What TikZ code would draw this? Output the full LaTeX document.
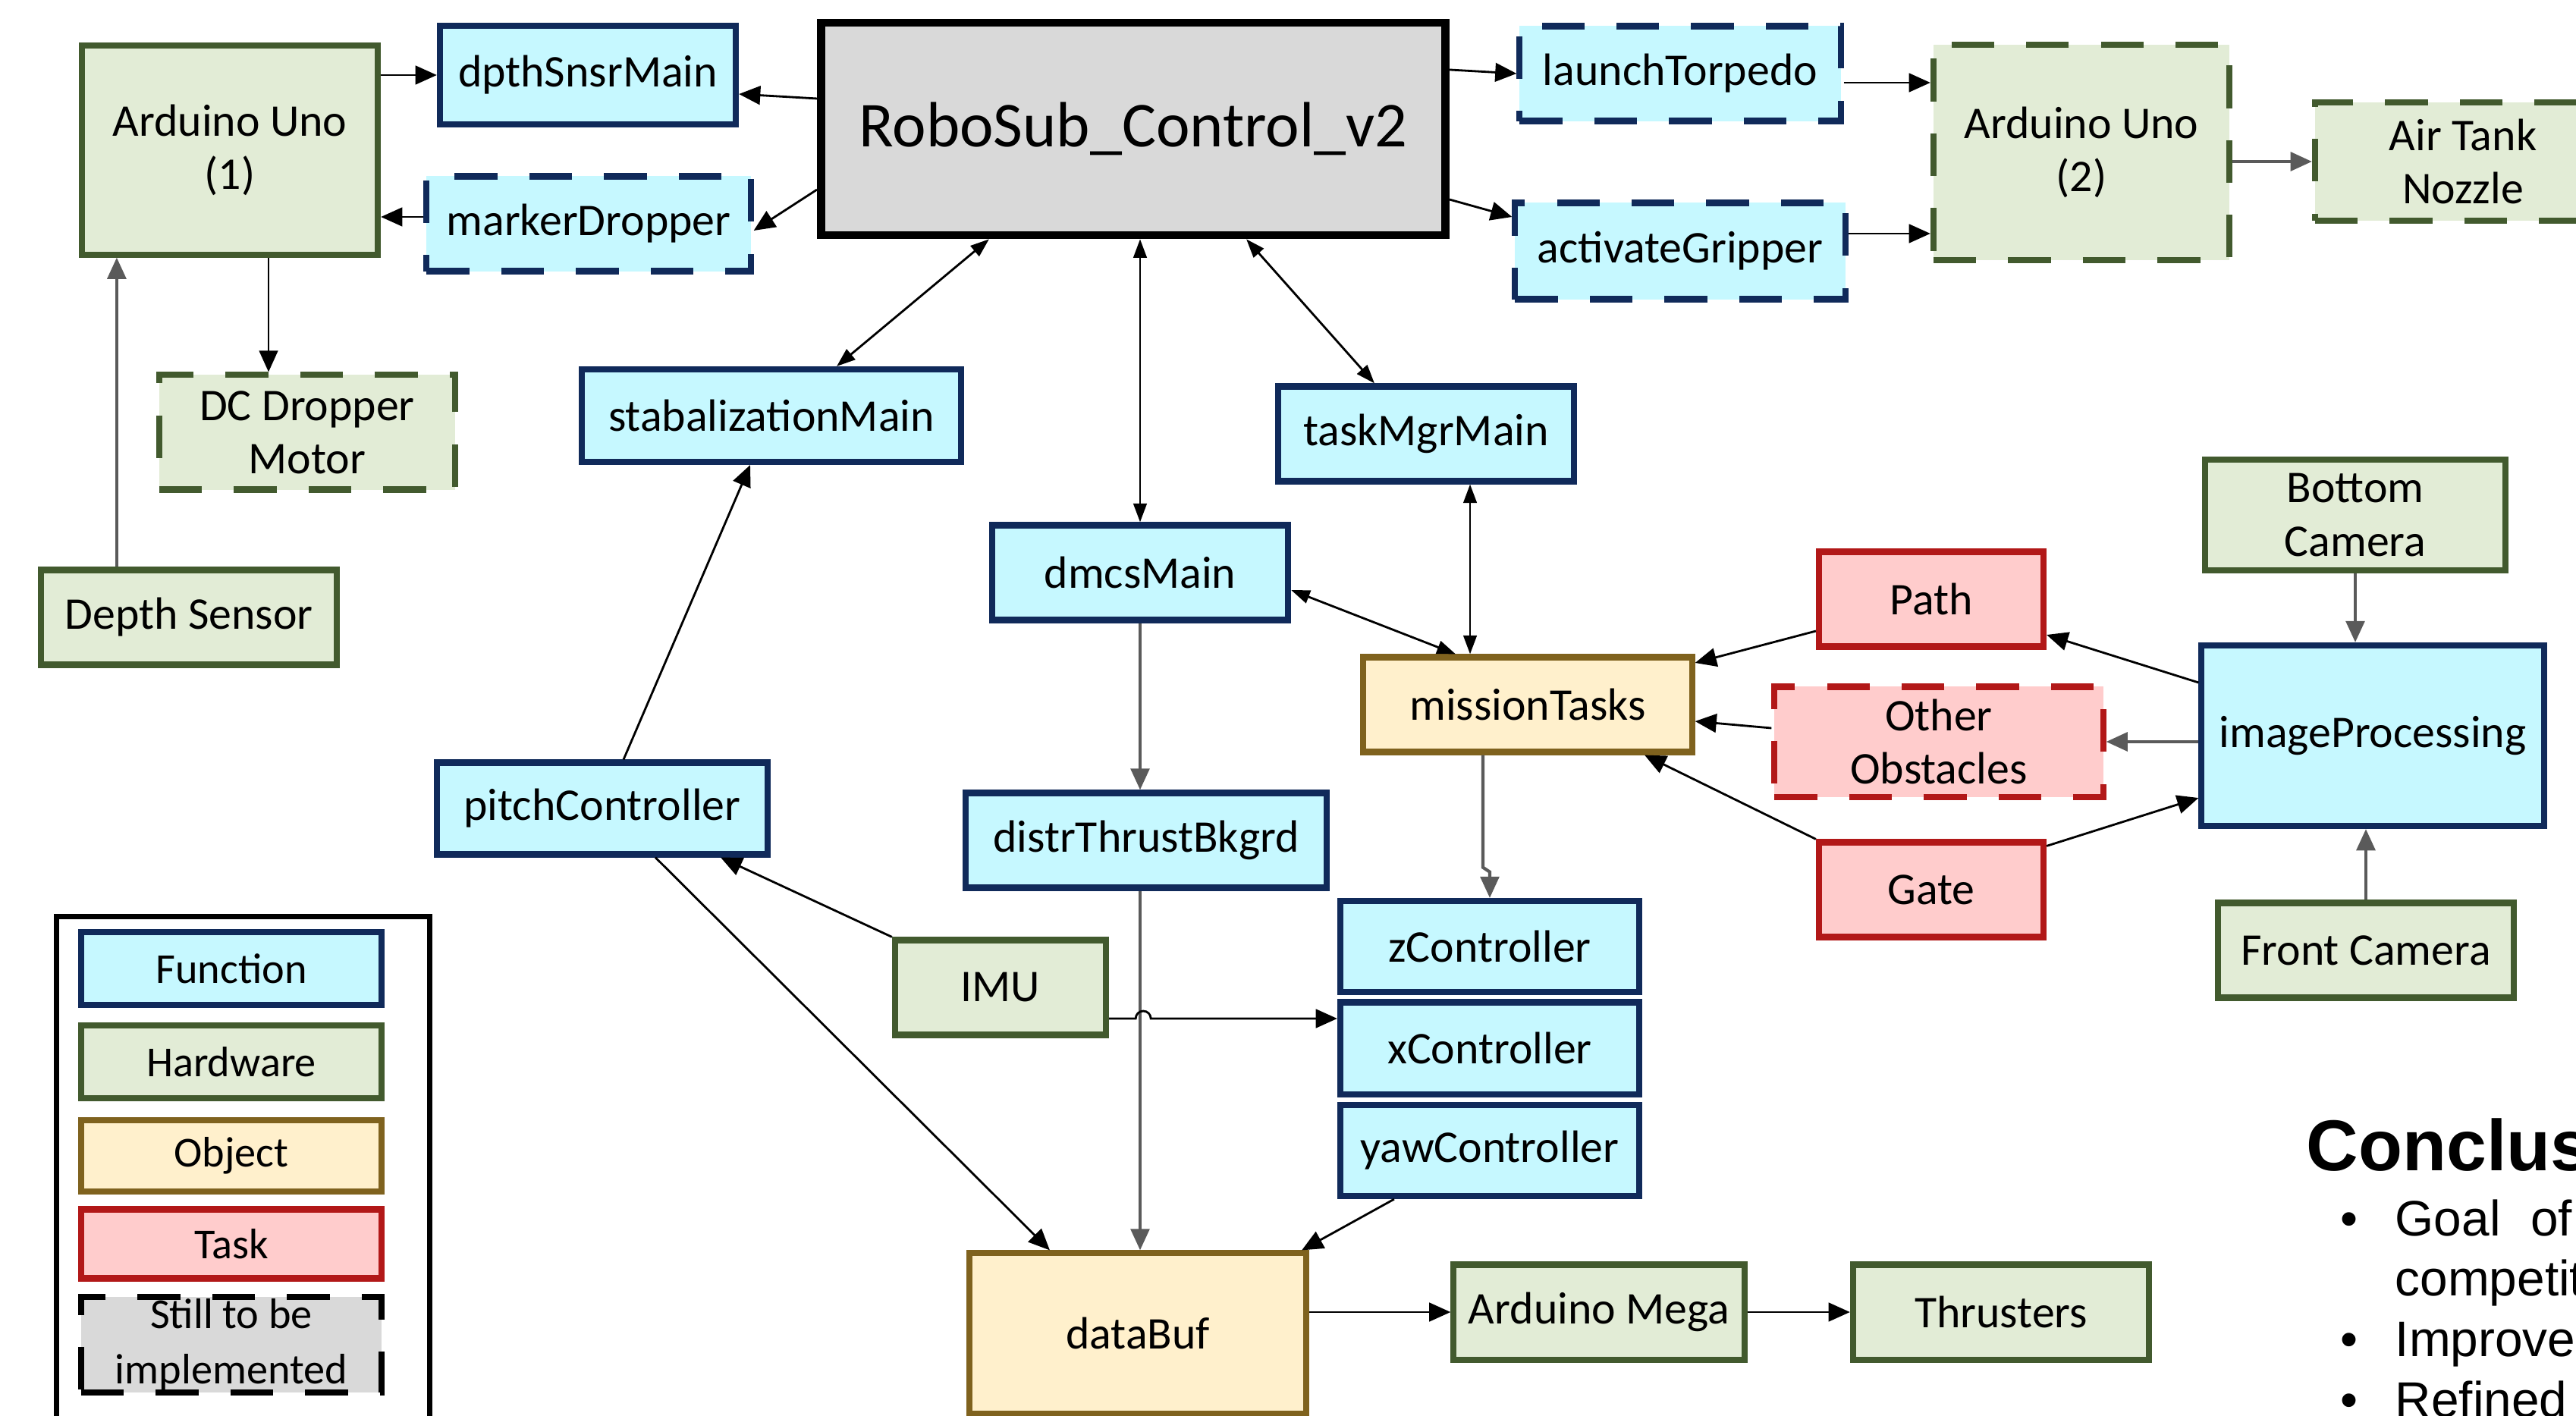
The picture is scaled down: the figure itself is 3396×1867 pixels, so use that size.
\documentclass[tikz,border=0pt]{standalone}
\usepackage{fontspec}
\setmainfont{Carlito}
\newfontfamily\arialfont{Liberation Sans}
\usetikzlibrary{arrows.meta}
\definecolor{fnline}{RGB}{16,42,90}\definecolor{fnfill}{RGB}{198,248,255}
\definecolor{hwline}{RGB}{66,90,46}\definecolor{hwfill}{RGB}{226,236,214}
\definecolor{objline}{RGB}{127,98,30}\definecolor{objfill}{RGB}{255,240,204}
\definecolor{tkline}{RGB}{178,24,24}\definecolor{tkfill}{RGB}{255,204,204}
\definecolor{robofill}{RGB}{217,217,217}\definecolor{wiregray}{RGB}{90,90,90}
\newcommand{\boxfont}{\fontsize{17pt}{20pt}\selectfont}
\newcommand{\legfont}{\fontsize{16pt}{21pt}\selectfont}
\tikzset{>={Triangle[length=8pt,width=7pt]},every node/.style={font=\boxfont},
box/.style={draw,line width=2.3pt,align=center,inner sep=0pt,minimum width=3.9cm,minimum height=1.25cm},
func/.style={box,draw=fnline,fill=fnfill},hw/.style={box,draw=hwline,fill=hwfill},
obj/.style={box,draw=objline,fill=objfill},task/.style={box,draw=tkline,fill=tkfill},
todo/.style={dash pattern=on 16pt off 12pt},
wire/.style={line width=0.8pt,->},gwire/.style={line width=1.2pt,draw=wiregray,->},
both/.style={line width=0.8pt,{Triangle[length=7pt,width=5pt]}-{Triangle[length=7pt,width=5pt]}},
conc/.style={anchor=base west,inner sep=0pt,font=\arialfont\fontsize{18.7pt}{22pt}\selectfont}}

\begin{document}
\begin{tikzpicture}[x=0.01cm,y=-0.01cm]
\useasboundingbox (0,0) rectangle (3396,1867);\clip (0,0) rectangle (3396,1867);
\node[hw,minimum height=2.75cm] (ard1) at (303,198) {Arduino Uno\\(1)};
\node[func,minimum height=1.3cm] (dpth) at (775,99) {dpthSnsrMain};
\node[func,todo,minimum width=4.27cm] (marker) at (776,295) {markerDropper};
\node[box,fill=robofill,line width=3pt,minimum width=8.23cm,minimum height=2.8cm,font=\fontsize{24pt}{28pt}\selectfont] (robo) at (1494,170) {RoboSub\_Control\_v2};
\node[func,todo,minimum width=4.23cm] (torpedo) at (2215,97) {launchTorpedo};
\node[func,todo,minimum width=4.35cm,minimum height=1.27cm] (gripper) at (2215,331) {activateGripper};
\node[hw,todo,minimum height=2.84cm] (ard2) at (2744,201) {Arduino Uno\\(2)};
\node[hw,todo,minimum height=1.56cm] (nozzle) at (3247,213) {Air Tank\\Nozzle};
\node[hw,todo,minimum height=1.51cm] (dcm) at (405,570) {DC Dropper\\Motor};
\node[hw] (depth) at (249,814) {Depth Sensor};
\node[func,minimum width=5cm,minimum height=1.22cm] (stab) at (1017,548) {stabalizationMain};
\node[func] (taskmgr) at (1880,572) {taskMgrMain};
\node[func] (dmcs) at (1503,755) {dmcsMain};
\node[task,minimum width=2.96cm] (path) at (2546,790) {Path};
\node[hw,minimum width=3.96cm,minimum height=1.46cm] (botcam) at (3105,679) {Bottom\\Camera};
\node[obj,minimum width=4.33cm] (mission) at (2014,929) {missionTasks};
\node[task,todo,minimum width=4.33cm,minimum height=1.45cm] (other) at (2556,978) {Other\\Obstacles};
\node[func,minimum width=4.51cm,minimum height=2.38cm] (imgproc) at (3128,970) {imageProcessing};
\node[func,minimum width=4.35cm,minimum height=1.21cm] (pitch) at (794,1066) {pitchController};
\node[func,minimum width=4.75cm] (distr) at (1511,1108) {distrThrustBkgrd};
\node[task,minimum width=2.96cm] (gate) at (2546,1173) {Gate};
\node[func,minimum width=3.94cm,minimum height=1.2cm] (zctrl) at (1964,1248) {zController};
\node[hw,minimum width=2.78cm] (imu) at (1319,1302) {IMU};
\node[hw] (frontcam) at (3119,1253) {Front Camera};
\node[func,minimum width=3.94cm,minimum height=1.21cm] (xctrl) at (1964,1382) {xController};
\node[func,minimum width=3.94cm,minimum height=1.2cm] (yaw) at (1964,1517) {yawController};
\node[obj,minimum width=4.44cm,minimum height=2.11cm] (databuf) at (1500,1758) {dataBuf};
\node[hw,minimum width=3.83cm] (mega) at (2108,1730) {Arduino Mega};
\node[hw] (thrust) at (2638,1730) {Thrusters};
\node[draw,line width=2pt,minimum width=4.92cm,minimum height=7cm,anchor=north west] (legend) at (71,1205) {};
\node[func,minimum width=3.96cm,minimum height=0.96cm,font=\legfont] (lfunc) at (305,1277) {Function};
\node[hw,minimum width=3.96cm,minimum height=0.96cm,font=\legfont] (lhw) at (305,1400) {Hardware};
\node[obj,minimum width=3.96cm,minimum height=0.94cm,font=\legfont] (lobj) at (305,1524) {Object};
\node[task,minimum width=3.96cm,minimum height=0.91cm,font=\legfont] (ltask) at (305,1640) {Task};
\node[box,todo,draw=black,fill=robofill,minimum width=3.96cm,minimum height=1.26cm,font=\legfont] (ltodo) at (305,1773) {Still to be\\implemented};
\node[conc,font=\arialfont\bfseries\fontsize{27pt}{32pt}\selectfont] (concl) at (3040,1543) {Conclus};
\node[conc] (goal) at (3157,1629) {Goal\hspace{0.6em}of};
\node[conc] (compet) at (3157,1708) {competit};
\node[conc] (improve) at (3157,1788) {Improve};
\node[conc] (refined) at (3157,1868) {Refined};
\foreach \n/\y in {b1/1629,b2/1788,b3/1868} \node[conc] (\n) at (3085,\y) {•};
\coordinate (dd) at ([xshift=0.51cm]ard1.south);\coordinate (ds) at ([xshift=-1.49cm]ard1.south);
\coordinate (t2) at ([yshift=-0.12cm]torpedo.east);\coordinate (g2) at ([yshift=0.23cm]gripper.east);
\coordinate (tm) at ([xshift=0.58cm]taskmgr.south);\coordinate (mz) at ([xshift=-0.59cm]mission.south);
\draw[wire] (ard1.east |- dpth.west) -- (dpth.west);
\draw[wire] ([yshift=0.4cm]robo.west) -- ([yshift=-0.25cm]dpth.east);
\draw[wire] ([yshift=0.09cm]marker.west) -- ([yshift=0.09cm]marker.west -| ard1.east);
\draw[wire] ([yshift=-0.8cm]robo.west) -- ([yshift=-0.09cm]marker.east);
\draw[wire] (dd) -- (dd |- dcm.north);\draw[gwire] (ds |- depth.north) -- (ds);
\draw[wire] ([yshift=0.78cm]robo.east) -- (torpedo.west);
\draw[wire] ([yshift=-0.93cm]robo.east) -- ([yshift=0.45cm]gripper.west);
\draw[wire] (t2) -- (t2 -| ard2.west);\draw[wire] (g2) -- (g2 -| ard2.west);
\draw[gwire] (ard2.east |- nozzle.west) -- (nozzle.west);
\draw[both] ([xshift=-1.9cm]robo.south) -- ([xshift=0.86cm]stab.north);
\draw[both] (dmcs.north |- robo.south) -- (dmcs.north);
\draw[both] ([xshift=1.49cm]robo.south) -- ([xshift=-0.68cm]taskmgr.north);
\draw[both] (tm) -- (tm |- mission.north);
\draw[both] ([yshift=-0.23cm]dmcs.east) -- ([xshift=-0.95cm]mission.north);
\draw[gwire] (dmcs.south) -- (dmcs.south |- distr.north);
\draw[gwire] (dmcs.south |- distr.south) -- (dmcs.south |- databuf.north);
\draw[wire] ([yshift=-0.41cm]imu.east) -- ++(0.35cm,0) arc[start angle=180,end angle=0,radius=0.1cm] -- ([yshift=0.39cm]xctrl.west);
\draw[gwire] (mz) -- ++(0,-1.48cm) -- ++(0.09cm,-0.06cm) -- (zctrl.north);
\draw[wire] ([yshift=-0.42cm]path.west) -- ([yshift=0.55cm]mission.east);
\draw[wire] ([yshift=0.18cm]other.west) -- ([yshift=-0.22cm]mission.east);
\draw[wire] (gate.north west) -- ([xshift=1.54cm]mission.south);
\draw[wire] ([yshift=0.7cm]imgproc.west) -- ([yshift=-0.47cm]path.east);
\draw[gwire] (imgproc.west |- other.east) -- (other.east);
\draw[wire] ([yshift=-0.09cm]gate.north east) -- ([yshift=-0.82cm]imgproc.west);
\draw[gwire] (botcam.south) -- (botcam.south |- imgproc.north);
\draw[gwire] (frontcam.north) -- (frontcam.north |- imgproc.south);
\draw[wire] (imu.north west) -- ([xshift=1.56cm]pitch.south);
\draw[wire] ([xshift=0.28cm]pitch.north) -- ([xshift=-0.28cm]stab.south);
\draw[wire] ([xshift=0.7cm]pitch.south) -- ([xshift=-1.16cm]databuf.north);
\draw[wire] ([xshift=-1.26cm]yaw.south) -- ([xshift=-0.1cm]databuf.north east);
\draw[wire] (databuf.east |- mega.west) -- (mega.west);
\draw[wire] (mega.east) -- (thrust.west);
\end{tikzpicture}
\end{document}
